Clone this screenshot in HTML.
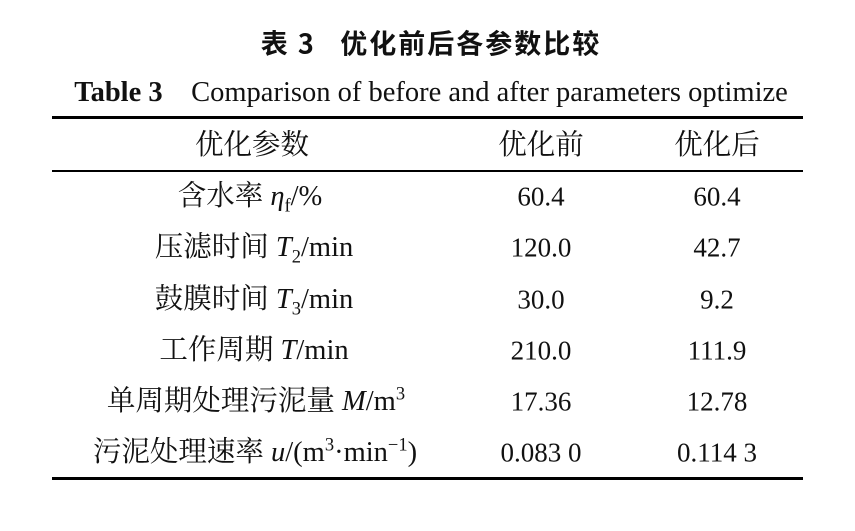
<!DOCTYPE html>
<html><head><meta charset="utf-8"><style>
body{margin:0;width:855px;height:531px;background:#fff;position:relative;overflow:hidden;font-family:"Liberation Serif","Noto Serif CJK SC",serif;color:#111}
.t{position:absolute;white-space:nowrap;transform:translate(-50%,-50%);font-size:27px;line-height:1}
.c{font-size:28.5px}
.r{position:absolute;left:52px;width:751px;background:#000}
sub,sup{font-size:65%;line-height:0}
i{font-style:italic}
</style></head><body>
<div class="t" style="left:431px;top:42px;font-family:'Noto Sans CJK SC',sans-serif;font-weight:bold;font-size:27px;letter-spacing:2px">表 3&nbsp;&nbsp;&nbsp;优化前后各参数比较</div>
<div class="t" style="left:431px;top:93px;font-size:28.5px"><b>Table 3</b>&nbsp;&nbsp;&nbsp;&nbsp;Comparison of before and after parameters optimize</div>
<div class="r" style="top:116px;height:3px"></div>
<div class="r" style="top:170px;height:2px"></div>
<div class="r" style="top:477px;height:3px"></div>
<div class="t c" style="left:252px;top:146px">优化参数</div>
<div class="t c" style="left:541px;top:146px">优化前</div>
<div class="t c" style="left:717px;top:146px">优化后</div>

<div class="t c" style="left:250px;top:197px">含水率 <i>η</i><sub>f</sub>/%</div>
<div class="t" style="left:541px;top:197px">60.4</div>
<div class="t" style="left:717px;top:197px">60.4</div>

<div class="t c" style="left:254px;top:248px">压滤时间 <i>T</i><sub>2</sub>/min</div>
<div class="t" style="left:541px;top:248px">120.0</div>
<div class="t" style="left:717px;top:248px">42.7</div>

<div class="t c" style="left:254px;top:300px">鼓膜时间 <i>T</i><sub>3</sub>/min</div>
<div class="t" style="left:541px;top:300px">30.0</div>
<div class="t" style="left:717px;top:300px">9.2</div>

<div class="t c" style="left:254px;top:351px">工作周期 <i>T</i>/min</div>
<div class="t" style="left:541px;top:351px">210.0</div>
<div class="t" style="left:717px;top:351px">111.9</div>

<div class="t c" style="left:256px;top:402px">单周期处理污泥量 <i>M</i>/m<sup>3</sup></div>
<div class="t" style="left:541px;top:402px">17.36</div>
<div class="t" style="left:717px;top:402px">12.78</div>

<div class="t c" style="left:255px;top:453px">污泥处理速率 <i>u</i>/(m<sup>3</sup>·min<sup>−1</sup>)</div>
<div class="t" style="left:541px;top:453px">0.083 0</div>
<div class="t" style="left:717px;top:453px">0.114 3</div>
</body></html>
